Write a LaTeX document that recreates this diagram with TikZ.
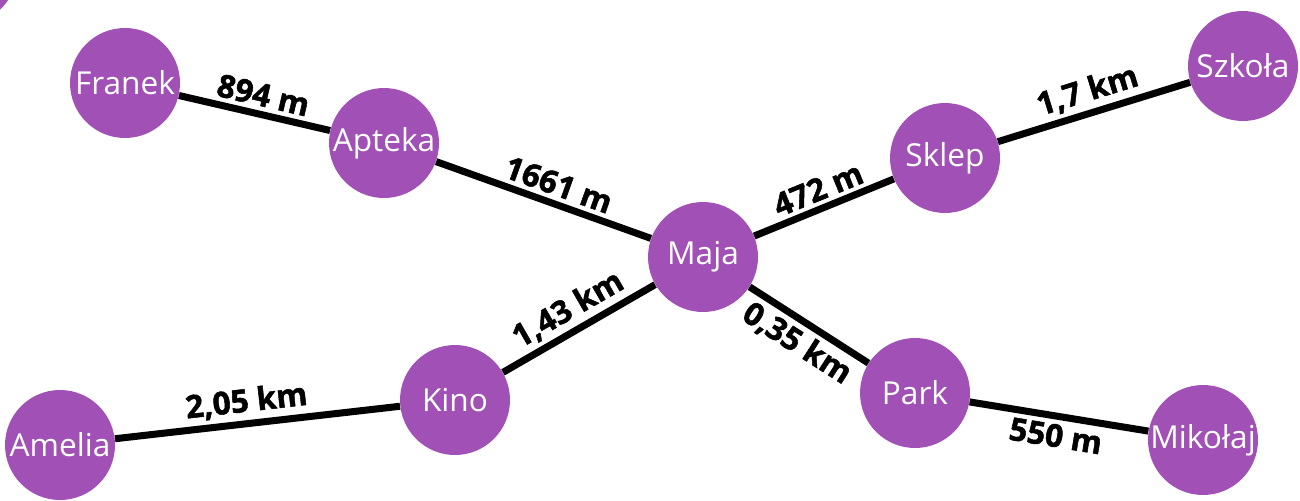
\documentclass[tikz,border=0pt]{standalone}
\usepackage{fontspec}
\setmainfont{Open Sans}
\newfontfamily\heavy{Open Sans}[BoldFeatures={FakeBold=1.6}]
\definecolor{place}{RGB}{161,80,182}
\begin{document}
\begin{tikzpicture}[x=0.02cm,y=-0.02cm,
  spot/.style={circle,fill=place,minimum size=2.2cm,inner sep=0pt,text=white,font=\fontsize{18}{20}\selectfont},
  road/.style={line width=4pt,black},
  dist/.style={sloped,font=\fontsize{18}{20}\selectfont\heavy\bfseries,inner sep=2.5pt}]
\useasboundingbox (0,0) rectangle (1300,500);
% a place cut off at the corner
\fill[place] (-38,-30) circle[radius=55];
% places
\node[spot] (franek) at (125,83) {Franek};
\node[spot] (apteka) at (384,143) {Apteka};
\node[spot] (maja) at (703,257) {Maja};
\node[spot] (sklep) at (945,158) {Sklep};
\node[spot] (szkola) at (1243,66) {Szkoła};
\node[spot] (kino) at (455,400) {Kino};
\node[spot] (amelia) at (60,445) {Amelia};
\node[spot] (park) at (915,393) {Park};
\node[spot] (mikolaj) at (1203,440) {Mikołaj};
% roads with distances
\draw[road] (franek) -- node[dist,above,pos=0.53] {894 m} (apteka);
\draw[road] (apteka) -- node[dist,above,pos=0.54] {1661 m} (maja);
\draw[road] (maja) -- node[dist,above,pos=0.51] {472 m} (sklep);
\draw[road] (sklep) -- node[dist,above,pos=0.5] {1,7 km} (szkola);
\draw[road] (kino) -- node[dist,above,pos=0.5] {1,43 km} (maja);
\draw[road] (amelia) -- node[dist,above,pos=0.47] {2,05 km} (kino);
\draw[road] (maja) -- node[dist,below,pos=0.5] {0,35 km} (park);
\draw[road] (park) -- node[dist,below,pos=0.5] {550 m} (mikolaj);
\end{tikzpicture}
\end{document}
